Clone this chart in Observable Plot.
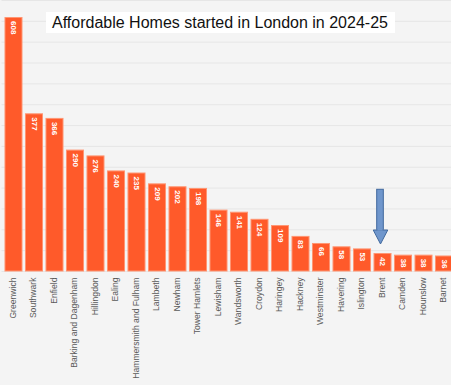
<!DOCTYPE html>
<html>
<head>
<meta charset="utf-8">
<script src="https://cdn.jsdelivr.net/npm/d3@7"></script>
<script src="https://cdn.jsdelivr.net/npm/@observablehq/plot@0.6"></script>
<style>
  html, body { margin: 0; padding: 0; background: #f4f4f4; overflow: hidden; }
  #wrap { position: relative; width: 451px; height: 385px; overflow: hidden; }
  #title {
    position: absolute; left: 46px; top: 12px; width: 343px; height: 21px;
    background: #ffffff; padding-left: 6px;
    font: 16px "Liberation Sans", Arial, sans-serif; color: #111;
    line-height: 21px; white-space: nowrap; box-sizing: content-box;
  }
</style>
</head>
<body>
<div id="wrap"><div id="title">Affordable Homes started in London in 2024-25</div></div>
<script>
const boroughs = ["Greenwich","Southwark","Enfield","Barking and Dagenham","Hillingdon","Ealing","Hammersmith and Fulham","Lambeth","Newham","Tower Hamlets","Lewisham","Wandsworth","Croydon","Haringey","Hackney","Westminster","Havering","Islington","Brent","Camden","Hounslow","Barnet"];
const homesStarted = [608,377,366,290,276,240,235,209,202,198,146,141,124,109,83,66,58,53,42,38,38,36];
const gridValues = [0,50,100,150,200,250,300,350,400,450,500,550,600,650];

// annotation arrow (in data units) pointing at Brent
const arrowBorough = ["Brent"];
const arrowShaftTop = [196];
const arrowHeadBase = [100];
const arrowTip = [66];

const data = boroughs.map((b, i) => ({borough: b, value: homesStarted[i]}));
const arrow = arrowBorough.map((b, i) => ({borough: b, top: arrowShaftTop[i], base: arrowHeadBase[i], tip: arrowTip[i]}));

const headSymbol = {
  draw(context, size) {
    const s = Math.sqrt(size);
    const hw = 0.76 * s, h = 1.46 * s;
    context.moveTo(-hw, -h);
    context.lineTo(hw, -h);
    context.lineTo(0, 0);
    context.closePath();
  }
};

const arrowFill = "#6f96cc", arrowStroke = "#41699e";

const chart = Plot.plot({
  width: 456,
  height: 385,
  marginLeft: 1.5,
  marginRight: 0,
  marginTop: 0,
  marginBottom: 114,
  style: {background: "transparent", fontFamily: "'Liberation Sans', Arial, sans-serif", maxWidth: "none"},
  x: {domain: boroughs, padding: 0.17, round: false, label: null},
  y: {domain: [0, 650], axis: null},
  marks: [
    Plot.ruleY(gridValues, {stroke: "#e6e6e6", strokeWidth: 1}),
    Plot.barY(data, {x: "borough", y: "value", fill: "#ff5a2a", stroke: "#ff9572", strokeWidth: 1}),
    Plot.text(data, {x: "borough", y: "value", text: d => String(d.value), rotate: 90, textAnchor: "start", dy: 3, fill: "white", fontSize: 8, fontWeight: "bold"}),
    Plot.axisX({tickSize: 0, tickRotate: -90, tickPadding: 6, dx: -1, fontSize: 8.6, fill: "#5a5a5a", label: null}),
    Plot.rect(arrow, {x: "borough", y1: "base", y2: "top", insetLeft: 5.2, insetRight: 5.2, dx: -2.5, fill: arrowFill, stroke: arrowStroke, strokeWidth: 1}),
    Plot.dot(arrow, {x: "borough", y: "tip", symbol: headSymbol, r: 5.4, dx: -2.5, fill: arrowFill, stroke: arrowStroke, strokeWidth: 1}),
    Plot.rect(arrow, {x: "borough", y1: d => d.base - 3, y2: d => d.base + 3, insetLeft: 5.9, insetRight: 5.9, dx: -2.5, fill: arrowFill})
  ]
});
chart.style.position = "absolute";
chart.style.left = "0px";
chart.style.top = "0px";
chart.style.maxWidth = "none";
const wrap = document.getElementById("wrap");
wrap.insertBefore(chart, wrap.firstChild);
</script>
</body>
</html>
